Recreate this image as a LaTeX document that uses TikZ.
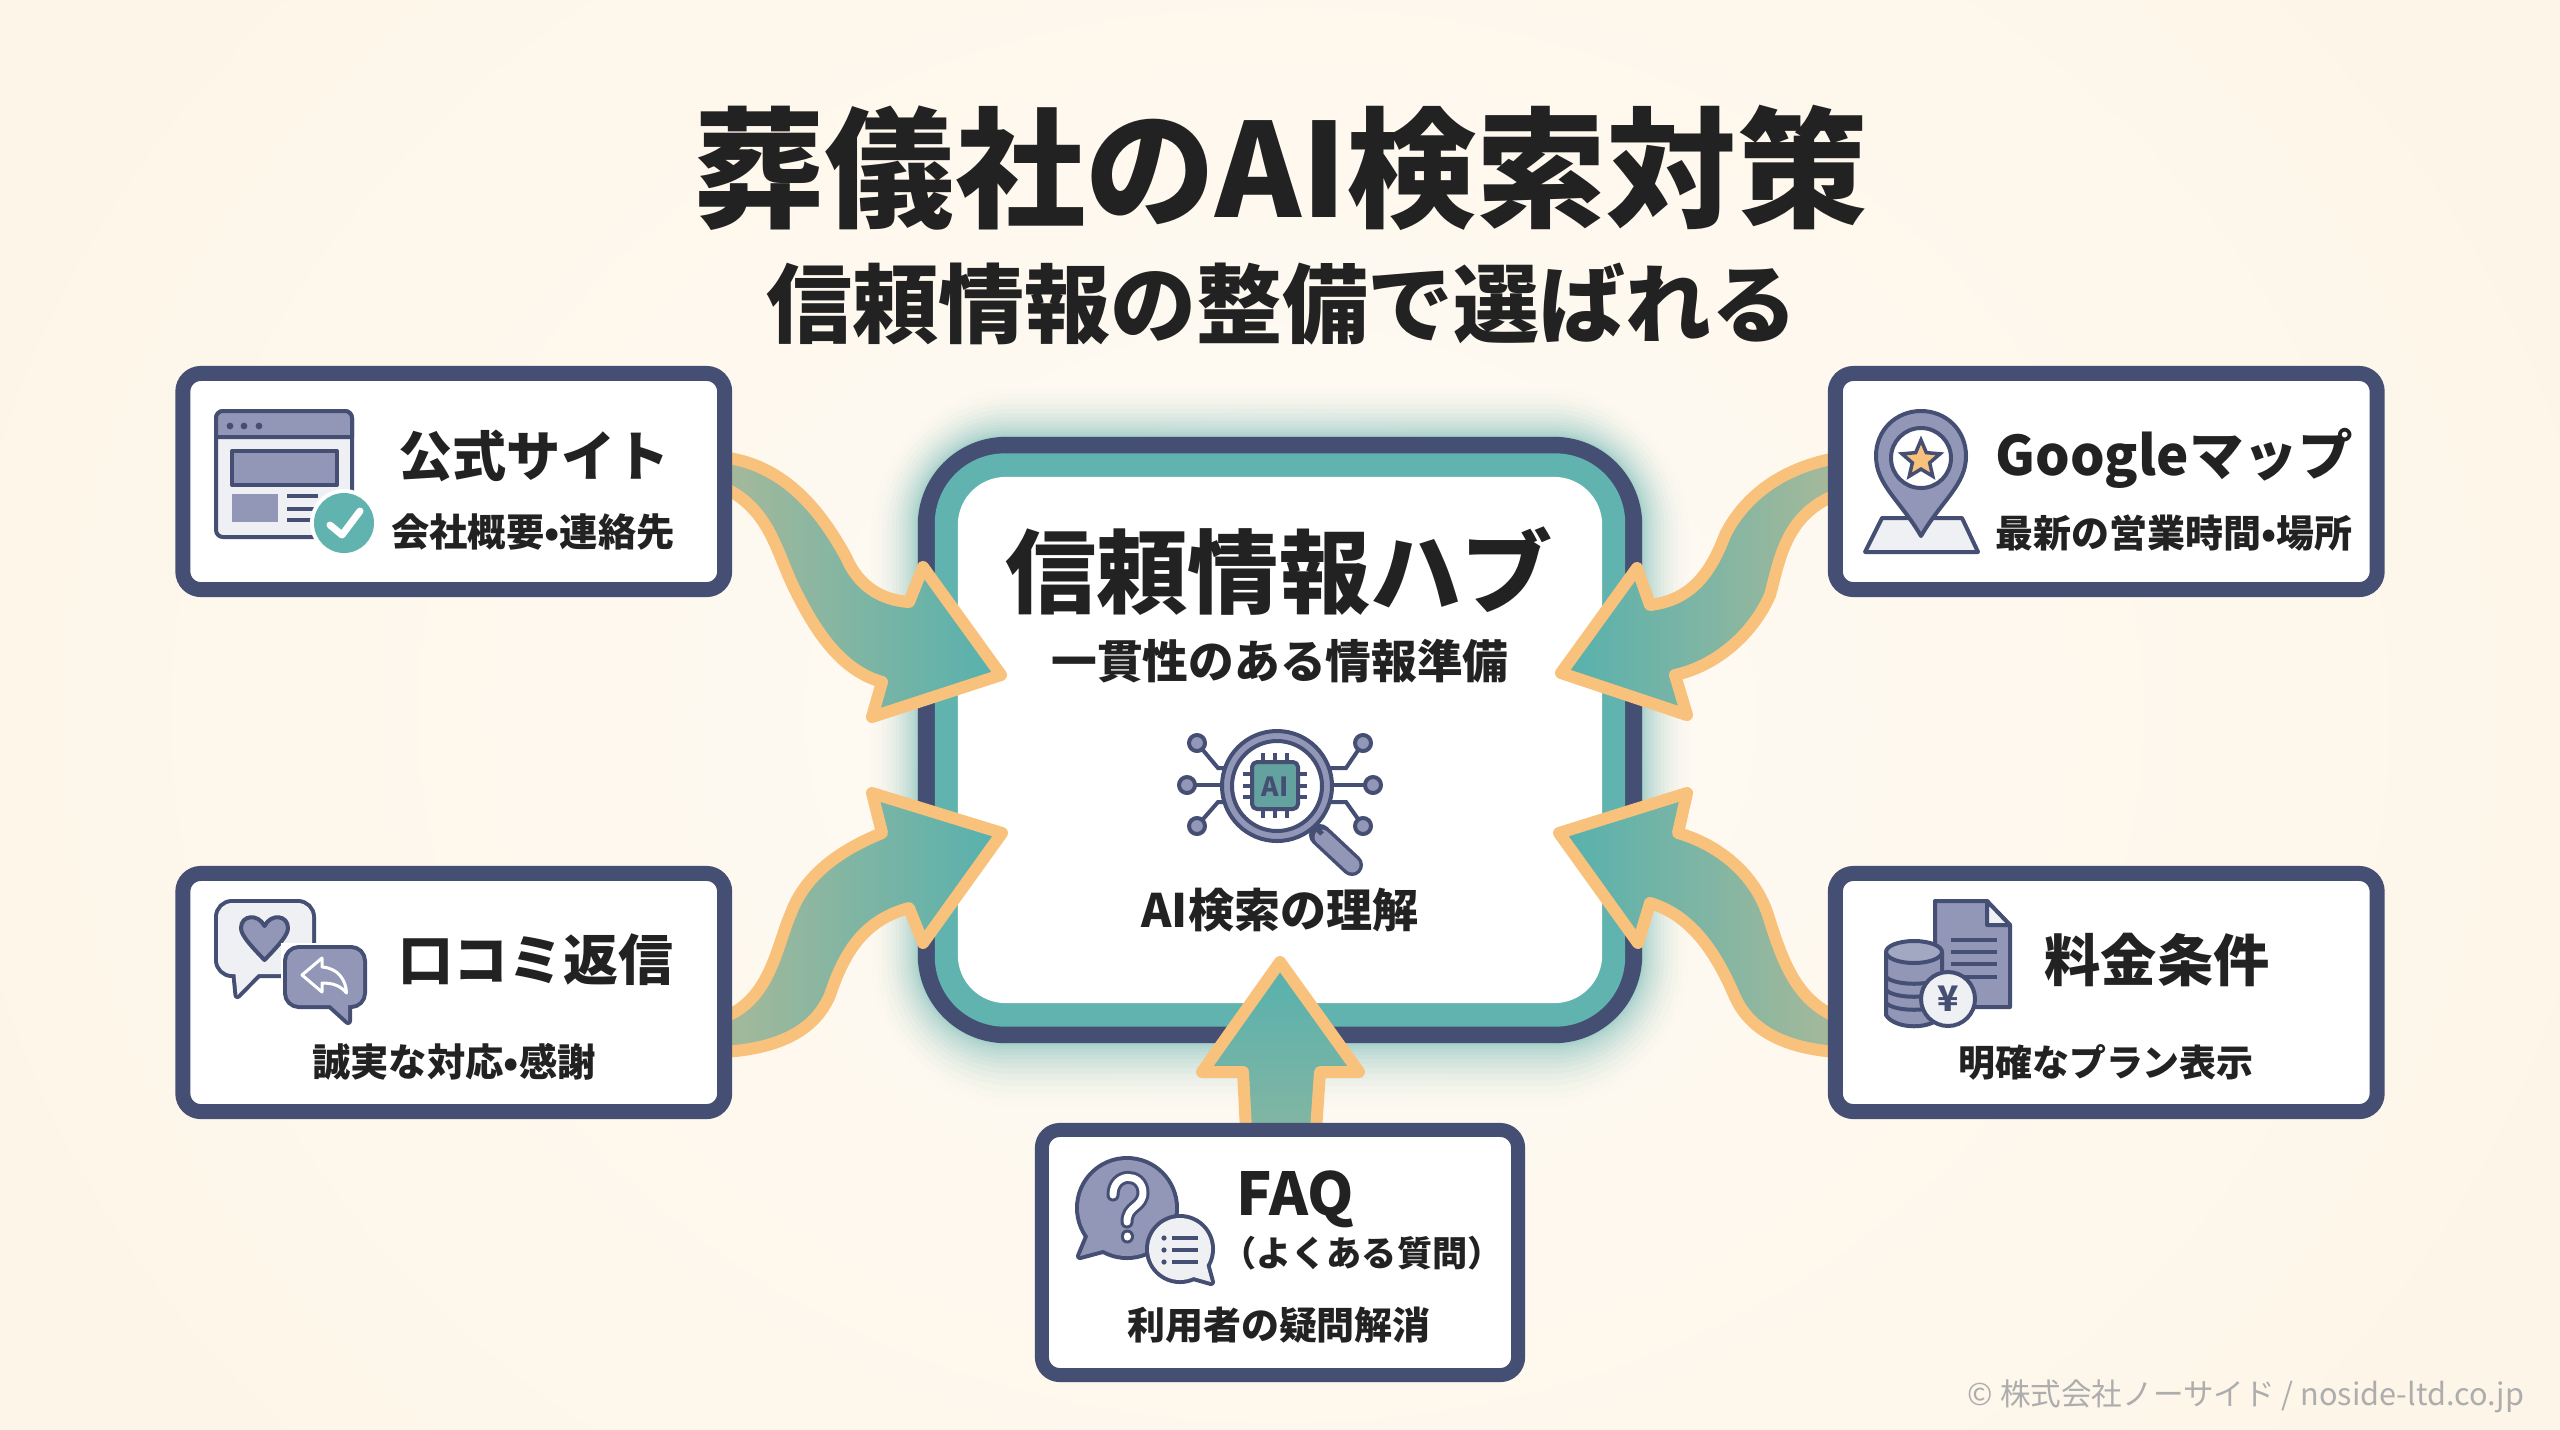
\documentclass[tikz,border=0pt]{standalone}
\usepackage{fontspec}
\setmainfont{Noto Sans CJK JP}
\newfontfamily\jpblack{Noto Sans CJK JP Black}
\usetikzlibrary{calc,shapes.geometric}
\definecolor{navy}{HTML}{454F74}
\definecolor{tealc}{HTML}{60B3AE}
\definecolor{orangec}{HTML}{F9C27C}
\definecolor{ink}{HTML}{222222}
\definecolor{slate}{HTML}{9297B7}
\definecolor{pale}{HTML}{EEF0F3}
\definecolor{tailc}{HTML}{A9B999}
\definecolor{headc}{HTML}{55B1AE}
\definecolor{bgout}{HTML}{FDF5E7}
\definecolor{bgin}{HTML}{FFFBF5}
\newcommand{\fs}[1]{\fontsize{#1pt}{#1pt}\selectfont}
\tikzset{
  card/.style={draw=navy,fill=white,line width=.15cm,rounded corners=.18cm,inner sep=0,outer sep=0,minimum width=5.415cm,minimum height=2.16cm},
  lbl/.style={inner sep=0,outer sep=0,text=ink,font=\bfseries,anchor=center},
  blockarrow/.style={draw=orangec,line width=.12cm,line join=round},
  ic/.style={draw=navy,line width=.04cm,line join=round},
  icwide/.style={draw=navy,line width=.08cm,line join=round},
  icline/.style={draw=navy,line width=.05cm,line cap=round},
}
\begin{document}
\begin{tikzpicture}[x=.01cm,y=-.01cm]
\useasboundingbox (0,0) rectangle (2560,1429);
\shade[shading=radial,inner color=bgin,outer color=bgout] (-200,-500) rectangle (2760,1929);
% glow
\foreach \i/\op in {16/.012,15/.018,14/.025,13/.035,12/.045,11/.05,10/.055,9/.06,8/.06,7/.06,6/.06,5/.06,4/.06,3/.06,2/.06,1/.06}{
  \pgfmathsetmacro{\d}{.23*\i*\i}
  \pgfmathsetmacro{\rc}{(88+\d)*.01}
  \fill[tealc,opacity=\op,rounded corners=\rc cm] ({918-\d*.8},{437-\d*.85}) rectangle ({1642+\d*.8},{1043+\d*1.1});
}
% hub
\node[draw=none,fill=navy,rounded corners=.88cm,minimum width=7.24cm,minimum height=6.06cm,inner sep=0,outer sep=0] (hub) at (1280,740) {};
\node[fill=tealc,rounded corners=.70cm,minimum width=6.90cm,minimum height=5.73cm,inner sep=0,outer sep=0] (hubmid) at (hub.center) {};
\node[fill=white,rounded corners=.48cm,minimum width=6.44cm,minimum height=5.26cm,inner sep=0,outer sep=0] (hubin) at (hub.center) {};

% cards (placed first so that connectors can use their names, redrawn by order below)
\path node[card,draw=none,fill=none] (tl) at (453.75,481.5) {}
      node[card,draw=none,fill=none] (tr) at (2106.25,481.5) {}
      node[card,draw=none,fill=none] (bl) at (453.75,992.5) {}
      node[card,draw=none,fill=none] (br) at (2106.25,992.5) {};

% block arrows
\path[blockarrow,left color=tailc,right color=headc]
  ($(tl.east)+(-10,-25)$) .. controls (775,460) and (815,500) .. (846,557)
  .. controls (858,585) and (880,600) .. (909,602)
  -- (923,567) -- (1001,675) -- (872,717) -- (882,682)
  .. controls (840,670) and (815,630) .. (795,590)
  .. controls (775,550) and (770,505) .. ($(tl.east)+(-10,2)$) -- cycle;
\path[blockarrow,left color=headc,right color=tailc]
  ($(tr.west)+(10,-25)$) .. controls (1785,465) and (1745,495) .. (1725,535)
  .. controls (1710,575) and (1690,600) .. (1650,605)
  -- (1637,568) -- (1561,673) -- (1687,715) -- (1675,675)
  .. controls (1720,665) and (1755,630) .. (1770,595)
  .. controls (1780,560) and (1785,510) .. ($(tr.west)+(10,10)$) -- cycle;
\path[blockarrow,left color=tailc,right color=headc]
  ($(bl.east)+(-10,28)$) .. controls (770,1005) and (775,950) .. (791,913)
  .. controls (805,875) and (840,850) .. (882,833)
  -- (872,793) -- (1002,833) -- (923,943) -- (909,908)
  .. controls (865,920) and (845,950) .. (830,995)
  .. controls (815,1030) and (780,1050) .. ($(bl.east)+(-10,60)$) -- cycle;
\path[blockarrow,left color=headc,right color=tailc]
  ($(br.west)+(10,28)$) .. controls (1800,1005) and (1785,970) .. (1768,915)
  .. controls (1755,875) and (1720,845) .. (1678,833)
  -- (1687,793) -- (1559,833) -- (1638,943) -- (1650,903)
  .. controls (1690,915) and (1715,950) .. (1735,997)
  .. controls (1750,1030) and (1785,1050) .. ($(br.west)+(10,60)$) -- cycle;
\path[blockarrow,top color=headc,bottom color=tailc!55!headc]
  (1246,1130) -- (1243,1072) -- (1202,1072) -- (1280,962) -- (1359,1072) -- (1320,1072) -- (1316,1130) -- cycle;

% cards
\node[card] (tlbox) at (tl) {};
\node[card] (trbox) at (tr) {};
\node[card,minimum height=2.38cm] (blbox) at (bl) {};
\node[card,minimum height=2.38cm] (brbox) at (br) {};
\node[card,line width=.14cm,minimum width=4.76cm,minimum height=2.45cm] (faq) at (1280,1252.5) {};

% titles
\node[lbl,font=\jpblack\fs{37}] (title) at (1281,168) {葬儀社のAI検索対策};
\node[lbl,font=\jpblack\fs{24.45}] (subtitle) at (1282,304) {信頼情報の整備で選ばれる};
\node[lbl,font=\jpblack\fs{25.9}] (hubt) at (1279,571) {信頼情報ハブ};
\node[lbl,font=\bfseries\fs{13}] (hubs) at (1280,661) {一貫性のある情報準備};
\node[lbl,font=\bfseries\fs{13.1}] (hubai) at (1280,910) {AI検索の理解};
\node[lbl,font=\bfseries\fs{15.4}] (t1) at (534,456) {公式サイト};
\node[lbl,font=\bfseries\fs{10.9}] (s1) at (533,532) {会社概要•連絡先};
\node[lbl,font=\bfseries\fs{15.5}] (t2) at (2174,458) {Googleマップ};
\node[lbl,font=\bfseries\fs{10.8}] (s2) at (2174,533) {最新の営業時間•場所};
\node[lbl,font=\bfseries\fs{15.6}] (t3) at (536,960) {口コミ返信};
\node[lbl,font=\bfseries\fs{10.9}] (s3) at (454,1062) {誠実な対応•感謝};
\node[lbl,font=\bfseries\fs{16}] (t4) at (2157,960) {料金条件};
\node[lbl,font=\bfseries\fs{10.5}] (s4) at (2106,1062) {明確なプラン表示};
\node[lbl,font=\bfseries\fs{16.8}] (t5) at (1295,1199) {FAQ};
\node[lbl,font=\bfseries\fs{10}] (t5b) at (1369,1253) {\hspace{-.4em}（よくある質問）\hspace{-.4em}};
\node[lbl,font=\bfseries\fs{10.8}] (s5) at (1279,1325) {利用者の疑問解消};
\node[lbl,font=\fs{8.7},text=black!32,anchor=east] (copy) at (2524,1396) {© 株式会社ノーサイド / noside-ltd.co.jp};

% icon: browser window
\draw[ic,fill=pale,rounded corners=.07cm] (216,411) rectangle (352,537);
\draw[ic,fill=slate] (216,437) [rounded corners=.07cm] -- (216,411) -- (352,411) [sharp corners] -- (352,437) -- cycle;
\foreach \x in {230,244,259}{\fill[navy] (\x,426) circle (3.4);}
\draw[ic,fill=slate] (232,451) rectangle (337,485);
\fill[slate] (232,494) rectangle (278,522);
\foreach \y in {496,509,520}{\draw[navy,line width=.04cm] (287,\y) -- (318,\y);}
\fill[white] (344,523) circle (34);
\fill[tealc] (344,523) circle (30);
\draw[white,line width=.07cm,line cap=round,line join=round] (330,525) -- (342,535) -- (360,511);

% icon: map pin
\draw[ic,fill=pale] (1882,518) -- (1962,518) -- (1978,552) -- (1865,552) -- cycle;
\draw[ic,fill=slate] (1921,536) .. controls (1900,500) and (1876,485) .. (1876,456) .. controls (1876,430) and (1896,411) .. (1921,411) .. controls (1946,411) and (1966,430) .. (1966,456) .. controls (1966,485) and (1942,500) .. (1921,536) -- cycle;
\draw[ic,fill=white] (1921,458) circle (30);
\node[star,star points=5,star point ratio=2.2,draw=navy,line width=.035cm,fill=orangec,minimum size=.40cm,inner sep=0] (star) at (1921,460) {};

% icon: speech bubbles (heart, reply)
\draw[icwide,rounded corners=.14cm] (218,903) rectangle (312,974);
\draw[icwide] (235,970) -- (237.5,995) -- (262,970);
\fill[pale,rounded corners=.14cm] (218,903) rectangle (312,974);
\fill[pale] (235,970) -- (237.5,995) -- (262,970) -- cycle;
\draw[ic,fill=slate] (264.5,960) .. controls (250,945) and (241,935) .. (241,928) .. controls (241,915) and (258,913) .. (264.5,926) .. controls (271,913) and (288,915) .. (288,928) .. controls (288,935) and (279,945) .. (264.5,960) -- cycle;
\fill[white] (281,943) rectangle (369,1026);
\draw[icwide,rounded corners=.12cm] (287,949) rectangle (363,1005);
\draw[icwide] (326,1001) -- (348,1021) -- (348,1001);
\fill[slate,rounded corners=.12cm] (287,949) rectangle (363,1005);
\fill[slate] (326,1001) -- (348,1021) -- (348,1001) -- cycle;
\draw[white,line width=.03cm,fill=slate,line join=round] (302,975) -- (322,958) -- (322,967) .. controls (338,968) and (346,980) .. (346.5,993) .. controls (340,985) and (332,983) .. (322,983) -- (322,992) -- cycle;

% icon: document, coins, yen
\draw[ic,fill=slate] (1935,901) -- (1987,901) -- (2010,925) -- (2010,1007) -- (1935,1007) -- cycle;
\draw[ic,fill=pale] (1987,901) -- (2010,925) -- (1987,925) -- cycle;
\foreach \y in {940,952,964,977}{\draw[navy,line width=.04cm] (1951,\y) -- (1997,\y);}
\draw[ic,fill=slate] (1886,952) -- (1886,1015) .. controls (1895,1030) and (1933,1030) .. (1942,1015) -- (1942,952) -- cycle;
\draw[ic,fill=slate!85!white] (1914,952) ellipse (28 and 11);
\foreach \y in {977,990,1003}{\draw[navy,line width=.04cm] (1886,\y) .. controls (1895,\y+9) and (1933,\y+9) .. (1942,\y);}
\draw[ic,fill=pale] (1948,999) circle (27);
\node[lbl,font=\bfseries\fs{10},text=navy] (yen) at (1948,999) {¥};

% icon: question bubbles
\draw[icwide] (1127,1208) circle (48);
\draw[icwide] (1080,1256) -- (1090,1232) -- (1110,1248) -- cycle;
\fill[slate] (1127,1208) circle (48);
\fill[slate] (1080,1256) -- (1090,1232) -- (1110,1248) -- cycle;
\draw[navy,line width=.13cm,line cap=round,line join=round] (1113,1195) .. controls (1113,1172) and (1142,1172) .. (1143,1192) .. controls (1143,1208) and (1127,1205) .. (1127,1222);
\draw[navy,line width=.13cm,line cap=round] (1127,1236) -- (1127,1237);
\draw[white,line width=.07cm,line cap=round,line join=round] (1113,1195) .. controls (1113,1172) and (1142,1172) .. (1143,1192) .. controls (1143,1208) and (1127,1205) .. (1127,1222);
\draw[white,line width=.07cm,line cap=round] (1127,1236) -- (1127,1237);
\draw[icwide] (1180,1249) circle (31);
\draw[icwide] (1211,1282) -- (1205,1260) -- (1190,1276) -- cycle;
\fill[pale] (1180,1249) circle (31);
\fill[pale] (1211,1282) -- (1205,1260) -- (1190,1276) -- cycle;
\foreach \y in {1238,1250,1262}{\fill[navy] (1164,\y) circle (2.6); \draw[navy,line width=.04cm] (1172,\y) -- (1198,\y);}

% icon: AI magnifier
\draw[icline,line width=.04cm] (1197,743) -- (1218,768) -- (1225,768);
\draw[icline,line width=.04cm] (1187,785) -- (1225,785);
\draw[icline,line width=.04cm] (1197,826) -- (1218,802) -- (1225,802);
\draw[icline,line width=.04cm] (1363,743) -- (1346,768) -- (1330,768);
\draw[icline,line width=.04cm] (1373,785) -- (1330,785);
\draw[icline,line width=.04cm] (1363,826) -- (1346,802) -- (1330,802);
\foreach \x/\y in {1197/743,1187/785,1197/826,1363/743,1373/785,1363/826}{\draw[ic,fill=slate] (\x,\y) circle (8);}
\draw[navy,line width=.22cm,line cap=round] (1320,835) -- (1352,865);
\draw[slate,line width=.15cm,line cap=round] (1322,837) -- (1352,865);
\draw[navy,line width=.05cm] (1311,822) -- (1322,834);
\draw[ic,fill=slate] (1277,786) circle (55);
\draw[ic,fill=white] (1277,786) circle (45);
\foreach \x in {1263,1275,1287}{\draw[navy,line width=.035cm] (\x,753) -- (\x,818);}
\foreach \y in {774,786,797}{\draw[navy,line width=.035cm] (1243,\y) -- (1307,\y);}
\draw[ic,fill=tealc!85!black!90,rounded corners=.05cm] (1252,762) rectangle (1298,809);
\node[lbl,font=\bfseries\fs{7.5},text=navy] (aichip) at (1275,787) {AI};
\end{tikzpicture}
\end{document}
